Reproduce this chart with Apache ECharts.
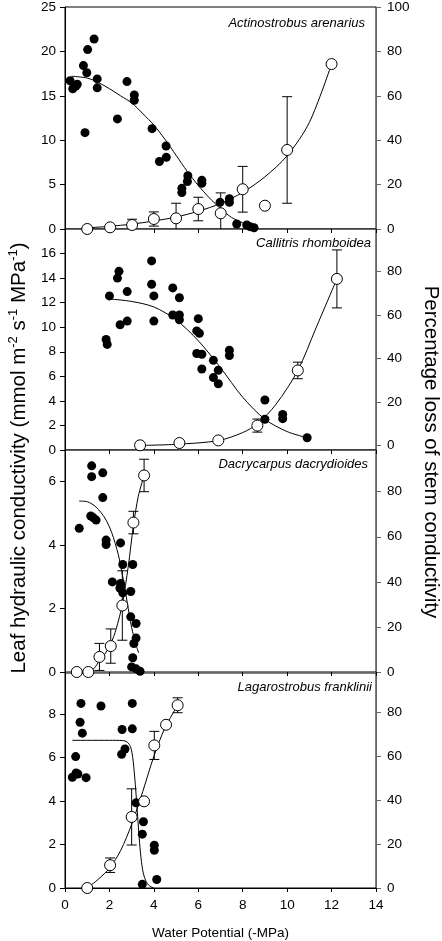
<!DOCTYPE html>
<html><head><meta charset="utf-8">
<script src="https://cdn.jsdelivr.net/npm/echarts@6/dist/echarts.min.js"></script>
<style>html,body{margin:0;padding:0;background:#fff}#c{width:442px;height:941px}</style>
</head><body><div id="c"></div>
<script>
// ---------- data ----------
const xTickValues = [0, 2, 4, 6, 8, 10, 12, 14];
const species = ['Actinostrobus arenarius', 'Callitris rhomboidea', 'Dacrycarpus dacrydioides', 'Lagarostrobus franklinii'];

// Panel 1: Actinostrobus arenarius
const kleaf1 = [[0.23,16.7],[0.35,15.8],[0.49,16.1],[0.55,16.3],[0.83,18.4],[0.98,17.6],[1.02,20.2],[1.31,21.4],[0.9,10.85],[1.45,16.9],[1.45,15.9],[2.36,12.4],[2.79,16.6],[3.12,15.1],[3.12,14.5],[3.92,11.3],[4.55,9.35],[4.25,7.6],[4.56,8.07],[5.53,6.0],[5.51,5.35],[5.26,4.58],[5.26,4.1],[6.16,5.48],[6.16,5.15],[6.98,3.0],[7.4,3.42],[7.4,3.0],[7.73,0.56],[8.18,0.45],[8.33,0.26],[8.51,0.14]];
const plc1 = [[1.0,0,0],[2.03,0.75,0],[3.02,1.8,2.6],[4.0,4.5,3.2],[5.0,4.8,6.8],[6.0,9.0,5.3],[7.01,7.07,9.2],[8.0,17.9,10.3],[9.0,10.5,0],[10.0,35.6,24],[12.0,74.3,0]];
const fitK1 = [[0.3,17.2],[1,17.0],[1.5,16.5],[2,15.8],[2.5,15.0],[3,14.2],[3.5,13.0],[4,11.7],[4.5,10.1],[5,8.3],[5.5,6.5],[6,4.9],[6.5,3.5],[7,2.3],[7.5,1.3],[8,0.7],[8.5,0.3]];
const fitP1 = [[1,0.5],[2,1.2],[3,2.2],[4,3.6],[5,5.4],[6,8],[7,11.5],[8,16.5],[9,23.5],[10,33],[11,48],[12,74.3]];

// Panel 2: Callitris rhomboidea
const kleaf2 = [[1.85,9.0],[1.9,8.6],[2.0,12.55],[2.36,14.0],[2.43,14.55],[2.48,10.2],[2.8,10.5],[2.8,12.9],[3.9,15.4],[3.9,13.5],[4.0,12.55],[4.0,10.5],[4.85,13.2],[5.15,12.4],[4.85,11.0],[5.15,11.0],[5.15,10.6],[6.0,10.7],[5.93,9.7],[6.05,9.5],[5.93,7.86],[6.16,7.8],[6.16,6.6],[6.68,7.3],[6.68,5.9],[6.9,6.5],[6.9,5.4],[7.4,8.13],[7.4,7.7],[9.0,4.07],[9.0,2.5],[9.8,2.9],[9.8,2.55],[10.9,1.0]];
const plc2 = [[3.38,0.15,0],[5.15,1.2,0],[6.9,2.4,0],[8.66,9.2,3],[10.48,34.5,3.8],[12.24,76.5,13.3]];
const fitK2 = [[2.0,12.3],[3,12.1],[4.0,11.65],[5,10.6],[6,8.9],[7,6.7],[8,4.3],[9,2.5],[10,1.5],[10.9,1.0]];
const fitP2 = [[3.38,0.1],[5,0.6],[6.9,2.3],[8,6],[8.66,10],[9.5,19],[10.48,34.5],[11.3,54],[12.24,76.5]];

// Panel 3: Dacrycarpus dacrydioides
const kleaf3 = [[0.64,4.53],[1.2,6.5],[1.2,6.16],[1.7,6.28],[1.7,5.5],[1.16,4.92],[1.28,4.86],[1.4,4.79],[1.85,4.16],[1.85,4.02],[2.13,2.84],[2.5,4.07],[2.6,3.39],[3.05,3.39],[2.5,2.79],[2.47,2.65],[2.6,2.5],[2.96,2.54],[2.96,1.74],[3.2,1.53],[3.2,1.07],[3.1,0.9],[3.05,0.45],[3.0,0.16],[3.2,0.1],[3.38,0.02]];
const plc3 = [[0.53,0,0],[1.05,0,0],[1.55,6.7,6],[2.06,11.5,7.6],[2.58,29.5,15.4],[3.08,66.3,5],[3.56,87.2,7.2]];
const fitK3 = [[0.64,5.39],[1.0,5.37],[1.4,5.2],[1.8,4.85],[2.1,4.4],[2.4,3.7],[2.6,3.0],[2.8,2.2],[3.0,1.4],[3.2,0.85],[3.32,0.6]];
const fitP3 = [[1.05,0],[1.3,1.5],[1.55,5],[1.8,8],[2.06,12.5],[2.3,19],[2.58,30],[2.85,47],[3.08,65],[3.3,78],[3.56,87.2]];

// Panel 4: Lagarostrobus franklinii
const kleaf4 = [[0.72,8.5],[1.62,8.38],[3.03,8.5],[0.68,7.63],[0.78,7.13],[2.57,7.3],[3.03,7.33],[0.48,6.05],[2.7,6.4],[2.55,6.16],[0.33,5.1],[0.5,5.3],[0.58,5.25],[0.95,5.08],[3.2,3.92],[3.53,3.05],[3.48,2.48],[4.02,1.97],[4.02,1.74],[4.13,0.39],[3.48,0.17]];
const plc4 = [[1.0,0,0],[2.03,10.4,3.3],[3.0,32.4,12.8],[3.56,39.5,0],[4.02,65.0,6.4],[4.55,74.4,0],[5.07,83.3,3.4]];
const fitK4 = [[0.33,6.8],[1,6.8],[2,6.8],[2.6,6.79],[2.8,6.72],[2.95,6.5],[3.05,6.0],[3.13,5.2],[3.2,4.3],[3.27,3.3],[3.34,2.3],[3.42,1.4],[3.52,0.7],[3.65,0.3],[3.8,0.1],[4.0,0]];
const fitP4 = [[1.0,0],[1.5,4],[2.0,9],[2.5,17],[3.0,29],[3.5,44],[4.0,60],[4.5,73],[5.07,83.3]];

// axis tick labels
const leftTicks = [[0,5,10,15,20,25],[0,2,4,6,8,10,12,14,16],[0,2,4,6],[0,2,4,6,8]];
const rightTicks = [[0,20,40,60,80,100],[0,20,40,60,80],[0,20,40,60,80],[0,20,40,60,80]];

// ---------- layout ----------
const FONT = "'Liberation Sans', Arial, sans-serif";
const TICK_FS = 13.5;
const grids = [
  {top: 7, height: 222},
  {top: 229, height: 221},
  {top: 450, height: 222},
  {top: 673, height: 220}
];
const leftRange = [[0,25],[0,18],[0,7],[0,9.9]];
const rightRange = [[0,100],[-2,99.4],[0,98.5],[0,98]];
const kleafs = [kleaf1, kleaf2, kleaf3, kleaf4];
const plcs = [plc1, plc2, plc3, plc4];
const fitKs = [fitK1, fitK2, fitK3, fitK4];
const fitPs = [fitP1, fitP2, fitP3, fitP4];
const labelY = [23, 243, 464, 687];
const labelX = [365, 371, 368, 372];

const chart = echarts.init(document.getElementById('c'), null, {renderer: 'canvas'});

const option = {
  animation: false,
  backgroundColor: '#fff',
  grid: grids.map(g => ({left: 65, right: 66, top: g.top, height: g.height, show: true, borderColor: '#000', borderWidth: 1, backgroundColor: 'transparent', containLabel: false})),
  xAxis: grids.map((g, i) => ({
    type: 'value', gridIndex: i, min: 0, max: 14, interval: 2,
    axisLine: {show: true, lineStyle: {color: i === 3 ? '#000' : '#666', width: 1}},
    axisTick: {show: true, inside: false, length: 4, lineStyle: {color: '#000'}, customValues: xTickValues},
    axisLabel: {show: i === 3, color: '#000', fontSize: TICK_FS, fontFamily: FONT, margin: 10, customValues: xTickValues},
    splitLine: {show: false},
    name: i === 3 ? 'Water Potential (-MPa)' : '',
    nameLocation: 'middle', nameGap: 38,
    nameTextStyle: {color: '#000', fontSize: TICK_FS, fontFamily: FONT}
  })),
  yAxis: [],
  series: [],
  graphic: []
};

grids.forEach((g, i) => {
  option.yAxis.push({
    type: 'value', gridIndex: i, position: 'left', min: leftRange[i][0], max: leftRange[i][1],
    axisLine: {show: true, lineStyle: {color: '#000'}},
    axisTick: {show: true, length: 5, lineStyle: {color: '#000'}, customValues: leftTicks[i]},
    axisLabel: {color: '#000', fontSize: TICK_FS, fontFamily: FONT, margin: 9, customValues: leftTicks[i]},
    splitLine: {show: false}
  });
  option.yAxis.push({
    type: 'value', gridIndex: i, position: 'right', min: rightRange[i][0], max: rightRange[i][1],
    axisLine: {show: true, lineStyle: {color: '#666'}},
    axisTick: {show: true, length: 5, lineStyle: {color: '#666'}, customValues: rightTicks[i]},
    axisLabel: {color: '#000', fontSize: TICK_FS, fontFamily: FONT, margin: 11, customValues: rightTicks[i]},
    splitLine: {show: false}
  });
  const ymin = rightRange[i][0] < 0 ? 0 : rightRange[i][0];
  // fitted curves
  option.series.push({
    type: 'line', xAxisIndex: i, yAxisIndex: 2 * i, data: fitKs[i], smooth: 0.3,
    showSymbol: false, symbol: 'none', lineStyle: {color: '#000', width: 1}, z: 2, silent: true
  });
  option.series.push({
    type: 'line', xAxisIndex: i, yAxisIndex: 2 * i + 1, data: fitPs[i], smooth: 0.3,
    showSymbol: false, symbol: 'none', lineStyle: {color: '#000', width: 1}, z: 2, silent: true
  });
  // filled points: leaf conductance
  option.series.push({
    type: 'scatter', xAxisIndex: i, yAxisIndex: 2 * i, data: kleafs[i], symbol: 'circle', symbolSize: 9,
    itemStyle: {color: '#000', opacity: 1}, z: 3, silent: true
  });
  // error bars
  option.series.push({
    type: 'custom', xAxisIndex: i, yAxisIndex: 2 * i + 1, data: plcs[i].filter(d => d[2] > 0), z: 4, silent: true,
    renderItem: (params, api) => {
      const x = api.value(0), y = api.value(1), e = api.value(2);
      const lo = Math.max(y - e, ymin);
      const top = api.coord([x, y + e]);
      const bot = api.coord([x, lo]);
      const cap = 5;
      const children = [
        {type: 'line', shape: {x1: top[0], y1: top[1], x2: bot[0], y2: bot[1]}, style: {stroke: '#000', lineWidth: 1}},
        {type: 'line', shape: {x1: top[0] - cap, y1: top[1], x2: top[0] + cap, y2: top[1]}, style: {stroke: '#000', lineWidth: 1}}
      ];
      if (y - e > ymin) children.push({type: 'line', shape: {x1: bot[0] - cap, y1: bot[1], x2: bot[0] + cap, y2: bot[1]}, style: {stroke: '#000', lineWidth: 1}});
      return {type: 'group', children};
    }
  });
  // open points: PLC
  option.series.push({
    type: 'scatter', xAxisIndex: i, yAxisIndex: 2 * i + 1, data: plcs[i].map(d => [d[0], d[1]]), symbol: 'circle', symbolSize: 11,
    itemStyle: {color: '#fff', borderColor: '#000', borderWidth: 1, opacity: 1}, z: 5, silent: true
  });
  option.graphic.push({
    type: 'text', x: labelX[i], y: labelY[i], z: 10,
    style: {text: species[i], textAlign: 'right', textVerticalAlign: 'middle', font: "italic 13px 'Liberation Sans', Arial, sans-serif", fill: '#000'}
  });
});

option.graphic.push({
  type: 'text', x: 19, y: 458, rotation: Math.PI / 2, z: 10,
  style: {
    text: '{a|Leaf hydraulic conductivity (mmol m}{s|-2}{a| s}{s|-1}{a| MPa}{s|-1}{a|)}',
    rich: {
      a: {fontSize: 20.5, fontFamily: FONT, lineHeight: 25, fill: '#000', color: '#000'},
      s: {fontSize: 13, fontFamily: FONT, lineHeight: 15, verticalAlign: 'top', fill: '#000', color: '#000'}
    },
    textAlign: 'center', textVerticalAlign: 'middle'
  }
});
option.graphic.push({
  type: 'text', x: 431, y: 452, rotation: -Math.PI / 2, z: 10,
  style: {text: 'Percentage loss of stem conductivity', textAlign: 'center', textVerticalAlign: 'middle', font: "20.5px 'Liberation Sans', Arial, sans-serif", fill: '#000'}
});

chart.setOption(option);
</script>
</body></html>
